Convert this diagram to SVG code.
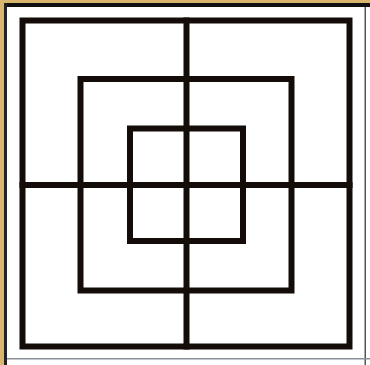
<svg xmlns="http://www.w3.org/2000/svg" width="370" height="365" viewBox="0 0 370 365">
  <style>
    .ln { fill: none; stroke: #140c08; stroke-width: 6; stroke-linecap: square; }
  </style>
  <rect x="0" y="0" width="370" height="365" fill="#d8b66e"/>
  <rect x="4" y="3" width="366" height="362" fill="#ffffff"/>
  <rect x="4" y="3" width="366" height="4" fill="#111111"/>
  <rect x="4" y="3" width="3" height="362" fill="#222222"/>
  <rect x="364.5" y="7" width="1.5" height="358" fill="#555555"/>
  <rect x="7" y="358" width="363" height="1.5" fill="#8a9098"/>
  <g id="squares">
    <rect id="outer" class="ln" x="22.5" y="20.5" width="327" height="326"/>
    <rect id="middle" class="ln" x="80.5" y="79" width="211" height="211.5"/>
    <rect id="inner" class="ln" x="130" y="128.5" width="113" height="112.5"/>
  </g>
  <g id="cross">
    <line class="ln" x1="186.5" y1="20.5" x2="186.5" y2="346.5"/>
    <line class="ln" x1="22.5" y1="185" x2="349.5" y2="185"/>
  </g>
</svg>
